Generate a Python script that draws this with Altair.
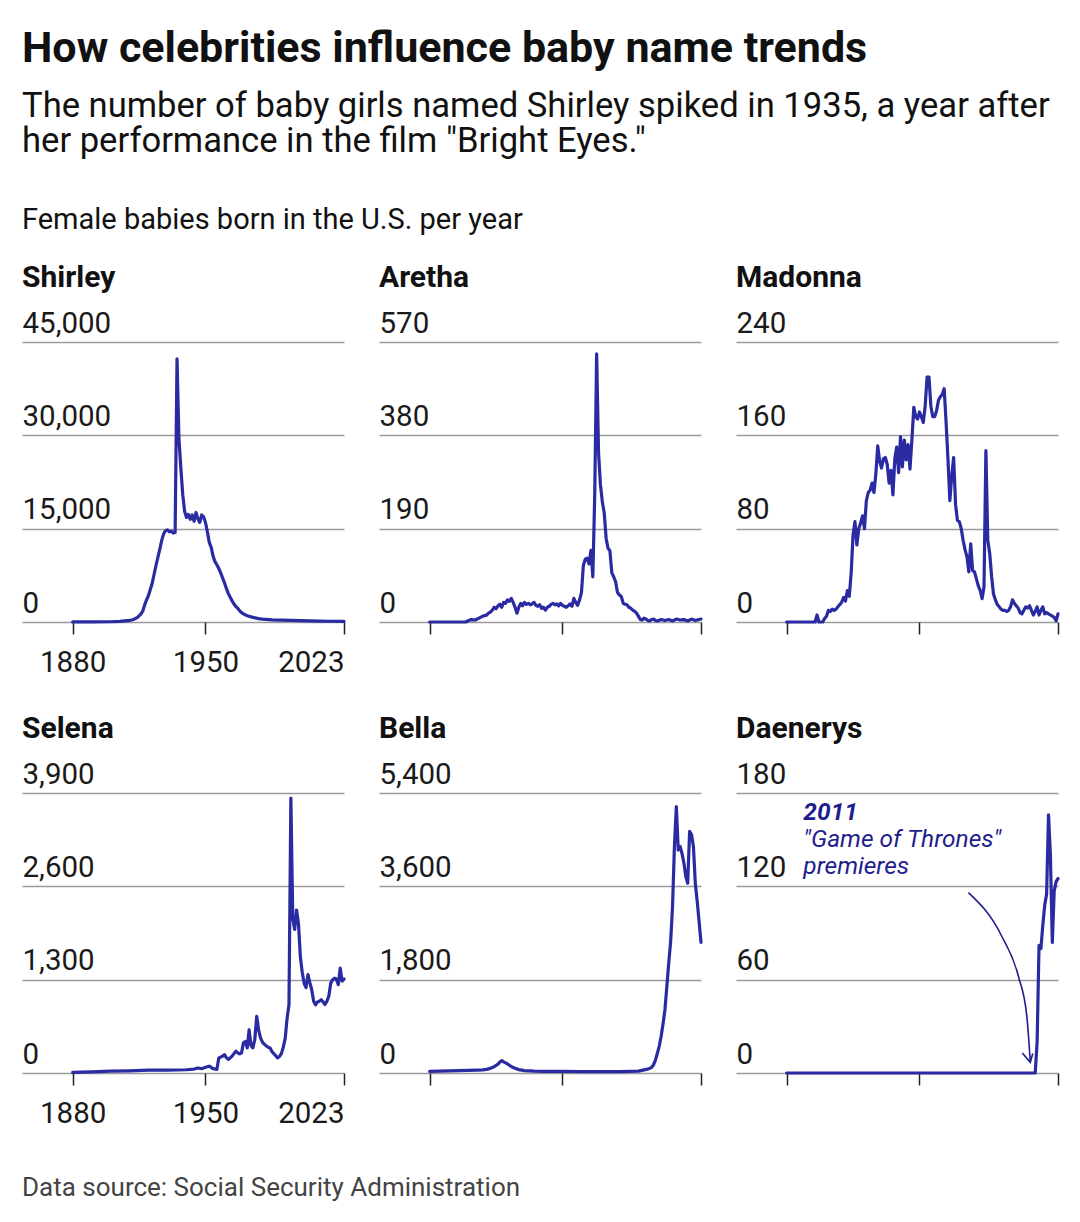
import altair as alt
import pandas as pd

# ---------------- data ----------------
SHIRLEY_YEARS = [1880, 1890, 1900, 1905, 1910, 1912, 1914, 1915, 1916, 1917, 1918, 1919, 1920, 1921, 1922,
                 1923, 1924, 1925, 1926, 1927, 1928, 1929, 1930, 1931, 1932, 1933, 1934, 1935, 1936, 1937,
                 1938, 1939, 1940, 1941, 1942, 1943, 1944, 1945, 1946, 1947, 1948, 1949, 1950, 1951, 1952,
                 1953, 1954, 1955, 1956, 1957, 1958, 1959, 1960, 1961, 1962, 1963, 1964, 1965, 1966, 1967,
                 1968, 1969, 1970, 1972, 1975, 1978, 1980, 1985, 1990, 1995, 2000, 2005, 2010, 2015, 2023]
SHIRLEY_VALUES = [5, 10, 40, 100, 250, 400, 700, 1000, 1300, 1800, 2800, 3600, 4300, 5300, 6300,
                  7800, 9200, 10500, 11800, 13200, 14200, 14700, 14800, 14500, 14600, 14300, 14400, 42300, 29500, 24800,
                  20500, 17800, 16800, 17300, 16500, 17200, 16200, 17600, 16600, 16000, 17200, 16900, 16000, 14500, 12800,
                  12000, 10600, 9700, 9200, 8600, 7900, 7100, 6300, 5400, 4600, 4000, 3400, 2900, 2500, 2200,
                  1800, 1500, 1300, 1000, 750, 550, 450, 350, 290, 250, 220, 180, 150, 120, 100]

ARETHA_YEARS = [1880, 1899, 1900, 1902, 1904, 1906, 1908, 1910, 1911, 1912, 1913, 1914, 1915, 1916, 1917,
                1918, 1919, 1920, 1921, 1922, 1923, 1924, 1925, 1926, 1927, 1928, 1929, 1930, 1931, 1932,
                1933, 1934, 1935, 1936, 1937, 1938, 1939, 1940, 1941, 1942, 1943, 1944, 1945, 1946, 1947,
                1948, 1949, 1950, 1951, 1952, 1953, 1954, 1955, 1956, 1957, 1958, 1959, 1960, 1961, 1962,
                1963, 1964, 1965, 1966, 1967, 1968, 1969, 1970, 1971, 1972, 1973, 1974, 1975, 1976, 1977,
                1978, 1979, 1980, 1981, 1982, 1983, 1984, 1985, 1986, 1987, 1988, 1989, 1990, 1991, 1992,
                1993, 1994, 1995, 1996, 1997, 1998, 1999, 2000, 2002, 2004, 2006, 2008, 2010, 2012, 2014,
                2016, 2018, 2020, 2022, 2023]
ARETHA_VALUES = [0, 0, 2, 5, 4, 8, 12, 14, 18, 20, 24, 30, 27, 33, 36,
                 30, 40, 38, 45, 42, 48, 40, 30, 18, 30, 38, 33, 40, 36, 38,
                 35, 37, 40, 34, 32, 35, 28, 30, 24, 30, 32, 36, 38, 35, 37,
                 33, 38, 34, 32, 30, 33, 37, 32, 48, 40, 34, 45, 60, 115, 128,
                 130, 118, 146, 92, 260, 546, 345, 280, 245, 222, 170, 150, 145, 100, 92,
                 82, 60, 55, 52, 38, 36, 35, 30, 28, 24, 22, 18, 12, 5, 4,
                 8, 6, 3, 2, 5, 6, 3, 2, 5, 3, 5, 2, 6, 4, 5,
                 2, 6, 3, 5, 6]

MADONNA_YEARS = [1880, 1895, 1896, 1897, 1899, 1900, 1901, 1902, 1903, 1904, 1905, 1906, 1907, 1908, 1909,
                 1910, 1911, 1912, 1913, 1914, 1915, 1916, 1917, 1918, 1919, 1920, 1921, 1922, 1923, 1924,
                 1925, 1926, 1927, 1928, 1929, 1930, 1931, 1932, 1933, 1934, 1935, 1936, 1937, 1938, 1939,
                 1940, 1941, 1942, 1943, 1944, 1945, 1946, 1947, 1948, 1949, 1950, 1951, 1952, 1953, 1954,
                 1955, 1956, 1957, 1958, 1959, 1960, 1961, 1962, 1963, 1964, 1965, 1966, 1967, 1968, 1969,
                 1970, 1971, 1972, 1973, 1974, 1975, 1976, 1977, 1978, 1979, 1980, 1981, 1982, 1983, 1984,
                 1985, 1986, 1987, 1988, 1989, 1990, 1991, 1992, 1993, 1994, 1995, 1996, 1997, 1998, 1999,
                 2000, 2001, 2002, 2003, 2004, 2005, 2006, 2007, 2008, 2009, 2010, 2011, 2012, 2013, 2014,
                 2015, 2016, 2017, 2018, 2019, 2020, 2021, 2022, 2023]
MADONNA_VALUES = [0, 0, 6, 0, 0, 3, 5, 10, 9, 11, 10, 11, 13, 15, 17,
                  21, 18, 27, 22, 42, 75, 86, 66, 80, 85, 91, 80, 104, 111, 113,
                  119, 111, 127, 151, 138, 132, 140, 141, 135, 119, 130, 109, 140, 150, 128,
                  159, 133, 156, 139, 152, 131, 156, 184, 176, 174, 180, 176, 171, 185, 210,
                  210, 185, 176, 176, 181, 190, 193, 195, 200, 172, 140, 104, 125, 141, 101,
                  87, 86, 80, 70, 62, 56, 43, 67, 44, 43, 37, 31, 27, 20, 30,
                  147, 70, 59, 39, 24, 19, 15, 13, 11, 10, 10, 9, 10, 13, 19,
                  16, 14, 12, 8, 7, 10, 13, 12, 14, 10, 6, 9, 13, 6, 10,
                  13, 7, 8, 7, 6, 5, 4, 1, 7]

SELENA_YEARS = [1880, 1890, 1900, 1910, 1920, 1930, 1940, 1944, 1946, 1948, 1950, 1952, 1954, 1956, 1957,
                1958, 1959, 1960, 1961, 1962, 1963, 1964, 1965, 1966, 1967, 1968, 1969, 1970, 1971, 1972,
                1973, 1974, 1975, 1976, 1977, 1978, 1979, 1980, 1981, 1982, 1983, 1984, 1985, 1986, 1987,
                1988, 1989, 1990, 1991, 1992, 1993, 1994, 1995, 1996, 1997, 1998, 1999, 2000, 2001, 2002,
                2003, 2004, 2005, 2006, 2007, 2008, 2009, 2010, 2011, 2012, 2013, 2014, 2015, 2016, 2017,
                2018, 2019, 2020, 2021, 2022, 2023]
SELENA_VALUES = [10, 15, 25, 30, 40, 40, 45, 55, 70, 60, 80, 95, 60, 50, 210,
                 220, 235, 255, 215, 190, 210, 235, 270, 305, 280, 265, 280, 420, 440, 350,
                 600, 380, 350, 470, 790, 600, 490, 430, 400, 380, 360, 350, 300, 270, 240,
                 210, 230, 270, 360, 480, 760, 950, 3830, 2150, 2000, 2270, 2080, 1620, 1400, 1250,
                 1190, 1370, 1260, 1160, 1000, 950, 990, 1000, 1020, 990, 955, 1000, 1070, 1250, 1300,
                 1320, 1310, 1230, 1460, 1280, 1310]

BELLA_YEARS = [1880, 1885, 1890, 1895, 1900, 1905, 1908, 1910, 1912, 1914, 1916, 1917, 1918, 1919, 1920,
               1921, 1922, 1923, 1924, 1925, 1927, 1930, 1935, 1940, 1950, 1960, 1970, 1980, 1990, 1993,
               1995, 1996, 1997, 1998, 1999, 2000, 2001, 2002, 2003, 2004, 2005, 2006, 2007, 2008, 2009,
               2010, 2011, 2012, 2013, 2014, 2015, 2016, 2017, 2018, 2019, 2020, 2021, 2022, 2023]
BELLA_VALUES = [30, 35, 40, 45, 50, 55, 60, 70, 90, 120, 170, 210, 240, 215, 195,
                175, 150, 125, 105, 90, 65, 45, 35, 30, 30, 28, 25, 28, 35, 60,
                75, 90, 110, 160, 250, 380, 520, 710, 950, 1220, 1670, 2120, 2540, 3210, 4370,
                5140, 4300, 4370, 4230, 4050, 3790, 3660, 4660, 4600, 4370, 3660, 3310, 2920, 2520]

DAENERYS_YEARS = [1880, 2011, 2012, 2013, 2014, 2015, 2016, 2017, 2018, 2019, 2020, 2021, 2022, 2023]
DAENERYS_VALUES = [0, 0, 20, 82, 80, 95, 108, 115, 166, 140, 84, 117, 123, 125]

PANEL_NAMES = ["Shirley", "Aretha", "Madonna", "Selena", "Bella", "Daenerys"]
PANEL_TICKS = [
    [0, 15000, 30000, 45000],
    [0, 190, 380, 570],
    [0, 80, 160, 240],
    [0, 1300, 2600, 3900],
    [0, 1800, 3600, 5400],
    [0, 60, 120, 180],
]
X_TICKS = [1880, 1950, 2023]

# annotation (Daenerys panel), in data units
ANNOT_LINES = ["2011", "\"Game of Thrones\"", "premieres"]
ANNOT_YEAR = [1888.8, 1888.8, 1888.8]
ANNOT_VALUE = [162.8, 145.6, 128.0]
ARROW_YEARS = [1975.8, 1993.5, 2002.2, 2006.6, 2008.4]
ARROW_VALUES = [116.0, 87.6, 61.9, 36.1, 7.1]
ARROWHEAD_YEARS = [2004.2, 2008.4, 2009.7]
ARROWHEAD_VALUES = [12.9, 6.9, 12.5]

TITLE = "How celebrities influence baby name trends"
SUBTITLE = ["The number of baby girls named Shirley spiked in 1935, a year after",
            "her performance in the film \"Bright Eyes.\""]
UNIT_LABEL = "Female babies born in the U.S. per year"
SOURCE = "Data source: Social Security Administration"

# ---------------- styling ----------------
FONT = "Roboto"
LINE_COLOR = "#2a2aa2"
ANNOT_COLOR = "#1e1e8c"
X_DOMAIN = [1853.3, 2023]
PANEL_W = 322
PANEL_H = 280
AXIS_FS = 29.5


def make_panel(name, years, values, ticks, show_x_labels, annotate=False):
    df = pd.DataFrame({"year": years, "value": values})
    xscale = alt.Scale(domain=X_DOMAIN, nice=False, zero=False)
    yscale = alt.Scale(domain=[ticks[0], ticks[-1]], nice=False, zero=True)
    xaxis = alt.Axis(
        values=X_TICKS, title=None, grid=False, domain=False,
        ticks=True, tickSize=12, tickColor="#222", tickWidth=1.5,
        labels=show_x_labels, labelFont=FONT, labelFontSize=AXIS_FS, labelColor="#1a1a1a",
        labelBaseline="alphabetic", labelPadding=37.5, labelFlush=False, labelOverlap=False,
        labelAlign={"condition": {"test": "datum.value == 2023", "value": "right"}, "value": "center"},
        format="d",
    )
    yaxis = alt.Axis(
        values=ticks, title=None, grid=True, gridColor="#9a9a9a", gridWidth=1.5,
        domain=False, ticks=False, tickSize=0,
        labelFont=FONT, labelFontSize=AXIS_FS, labelColor="#1a1a1a",
        labelAlign="left", labelBaseline="alphabetic", labelPadding=0, labelOffset=-10,
        labelFlush=False, labelOverlap=False, format=",d",
    )
    line = alt.Chart(df).mark_line(
        color=LINE_COLOR, strokeWidth=3.2, strokeJoin="round", strokeCap="round"
    ).encode(
        x=alt.X("year:Q", scale=xscale, axis=xaxis),
        y=alt.Y("value:Q", scale=yscale, axis=yaxis),
    )
    layers = [line]
    if annotate:
        xs = alt.Scale(domain=X_DOMAIN, nice=False, zero=False)
        ys = alt.Scale(domain=[ticks[0], ticks[-1]], nice=False, zero=True)
        adf = pd.DataFrame({"year": ANNOT_YEAR, "value": ANNOT_VALUE, "label": ANNOT_LINES,
                            "idx": list(range(len(ANNOT_LINES)))})
        bold = alt.Chart(adf).transform_filter("datum.idx == 0").mark_text(
            align="left", baseline="alphabetic", font=FONT, fontSize=24.5,
            fontStyle="italic", fontWeight="bold", color=ANNOT_COLOR,
        ).encode(x=alt.X("year:Q", scale=xs), y=alt.Y("value:Q", scale=ys), text="label:N")
        rest = alt.Chart(adf).transform_filter("datum.idx > 0").mark_text(
            align="left", baseline="alphabetic", font=FONT, fontSize=24.5,
            fontStyle="italic", fontWeight="normal", color=ANNOT_COLOR,
        ).encode(x=alt.X("year:Q", scale=xs), y=alt.Y("value:Q", scale=ys), text="label:N")
        curve_df = pd.DataFrame({"year": ARROW_YEARS, "value": ARROW_VALUES})
        curve = alt.Chart(curve_df).mark_line(
            color=ANNOT_COLOR, strokeWidth=1.6, interpolate="monotone"
        ).encode(x=alt.X("year:Q", scale=xs), y=alt.Y("value:Q", scale=ys))
        head_df = pd.DataFrame({"year": ARROWHEAD_YEARS, "value": ARROWHEAD_VALUES,
                                "o": list(range(len(ARROWHEAD_YEARS)))})
        head = alt.Chart(head_df).mark_line(
            color=ANNOT_COLOR, strokeWidth=1.6, strokeJoin="miter"
        ).encode(x=alt.X("year:Q", scale=xs), y=alt.Y("value:Q", scale=ys), order="o:Q")
        layers = [line, curve, head, bold, rest]
    chart = alt.layer(*layers) if len(layers) > 1 else line
    return chart.properties(
        width=PANEL_W, height=PANEL_H,
        title=alt.TitleParams(text=name, anchor="start", font=FONT, fontSize=30,
                              fontWeight="bold", color="#111111", offset=15),
    )


SERIES = [
    (SHIRLEY_YEARS, SHIRLEY_VALUES),
    (ARETHA_YEARS, ARETHA_VALUES),
    (MADONNA_YEARS, MADONNA_VALUES),
    (SELENA_YEARS, SELENA_VALUES),
    (BELLA_YEARS, BELLA_VALUES),
    (DAENERYS_YEARS, DAENERYS_VALUES),
]

panels = []
for i, (name, (yrs, vals), ticks) in enumerate(zip(PANEL_NAMES, SERIES, PANEL_TICKS)):
    panels.append(make_panel(name, yrs, vals, ticks, show_x_labels=(i % 3 == 0),
                             annotate=(name == "Daenerys")))

row1 = alt.hconcat(*panels[:3], spacing=33).properties(
    title=alt.TitleParams(text=UNIT_LABEL, anchor="start", font=FONT, fontSize=29,
                          fontWeight="normal", color="#111111", offset=28)
)
row2 = alt.hconcat(*panels[3:], spacing=33).properties(
    title=alt.TitleParams(text=SOURCE, orient="bottom", anchor="start", font=FONT, fontSize=26,
                          fontWeight="normal", color="#444444", offset=47)
)

chart = alt.vconcat(row1, row2, spacing=37).properties(
    title=alt.TitleParams(
        text=TITLE, subtitle=SUBTITLE, anchor="start", font=FONT, fontSize=43,
        fontWeight="bold", color="#111111", subtitleFont=FONT, subtitleFontSize=34.6,
        subtitleColor="#111111", subtitleLineHeight=35.5, subtitlePadding=19, offset=47,
    ),
    padding={"left": 14, "top": 19, "right": 0, "bottom": 10},
).configure_view(stroke=None).configure_concat(spacing=33)

chart.save("out.html", embed_options={"renderer": "svg", "actions": False})
